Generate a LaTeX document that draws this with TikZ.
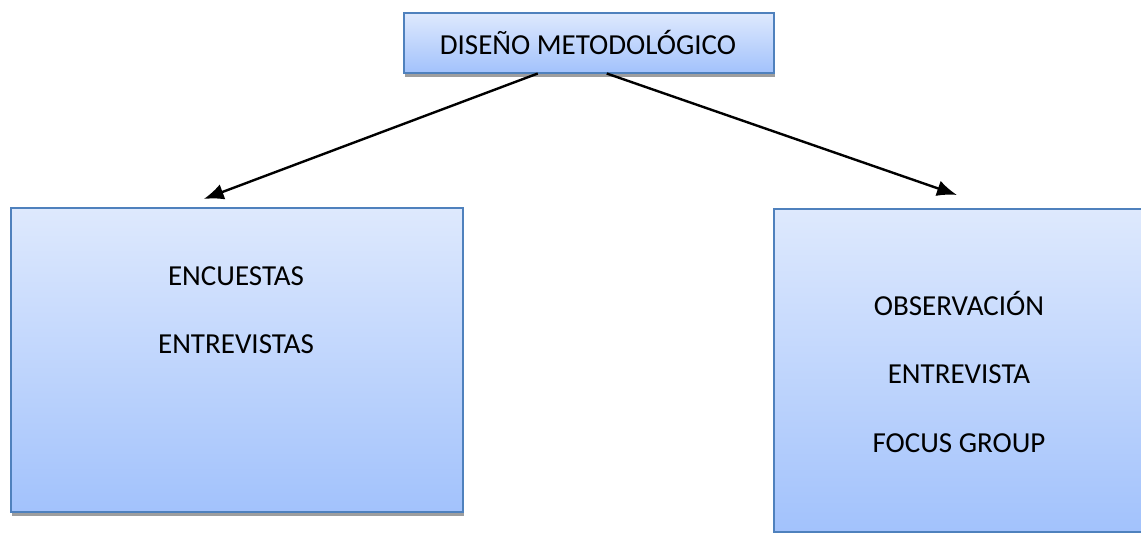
\documentclass[tikz,border=0pt]{standalone}
\usepackage{fontspec}
\setmainfont{Carlito}
\usetikzlibrary{arrows.meta,calc}

\definecolor{boxtop}{RGB}{222,233,253}
\definecolor{boxbot}{RGB}{162,194,252}
\definecolor{boxedge}{RGB}{79,129,189}
\definecolor{boxshade}{RGB}{158,158,158}

\tikzset{
  x=1pt, y=-1pt,
  panel/.style={draw=boxedge, line width=1.5pt, top color=boxtop, bottom color=boxbot,
    inner sep=0pt, anchor=north west},
  panelshadow/.style={fill=boxshade, draw=none, inner sep=0pt, anchor=north west},
  label/.style={font=\fontsize{29}{34}\selectfont, text=black, inner sep=0pt, anchor=base},
  link/.style={line width=2.4pt, -{Latex[length=20pt,width=16pt]}},
}

\begin{document}
\begin{tikzpicture}
  \useasboundingbox (0,0) rectangle (1141,533);
  \clip (0,0) rectangle (1141,533);

  % drop shadows
  \node[panelshadow, minimum width=370pt, minimum height=60pt] at (405,17) {};
  \node[panelshadow, minimum width=452pt, minimum height=304pt] at (12,212) {};
  \node[panelshadow, minimum width=380pt, minimum height=323pt] at (775,213) {};

  % boxes
  \node[panel, minimum width=370pt, minimum height=60pt] (top) at (403,12) {};
  \node[panel, minimum width=452pt, minimum height=304pt] (left) at (10,207) {};
  \node[panel, minimum width=380pt, minimum height=323pt] (right) at (773,208) {};

  % texts
  \node[label] (ttop) at (588,54) {DISEÑO METODOLÓGICO};
  \node[label] (l1) at (236,285) {ENCUESTAS};
  \node[label] (l2) at (236,353) {ENTREVISTAS};
  \node[label] (r1) at (959,315) {OBSERVACIÓN};
  \node[label] (r2) at (959,383) {ENTREVISTA};
  \node[label] (r3) at (959,452) {FOCUS GROUP};

  % connectors
  \coordinate (sL) at ([xshift=-51pt]top.south);
  \coordinate (sR) at ([xshift=18pt]top.south);
  \coordinate (eL) at ([xshift=-33pt,yshift=8pt]left.north);
  \coordinate (eR) at ([xshift=184pt,yshift=13pt]right.north west);
  \draw[link] (sL) -- (eL);
  \draw[link] (sR) -- (eR);
\end{tikzpicture}
\end{document}
